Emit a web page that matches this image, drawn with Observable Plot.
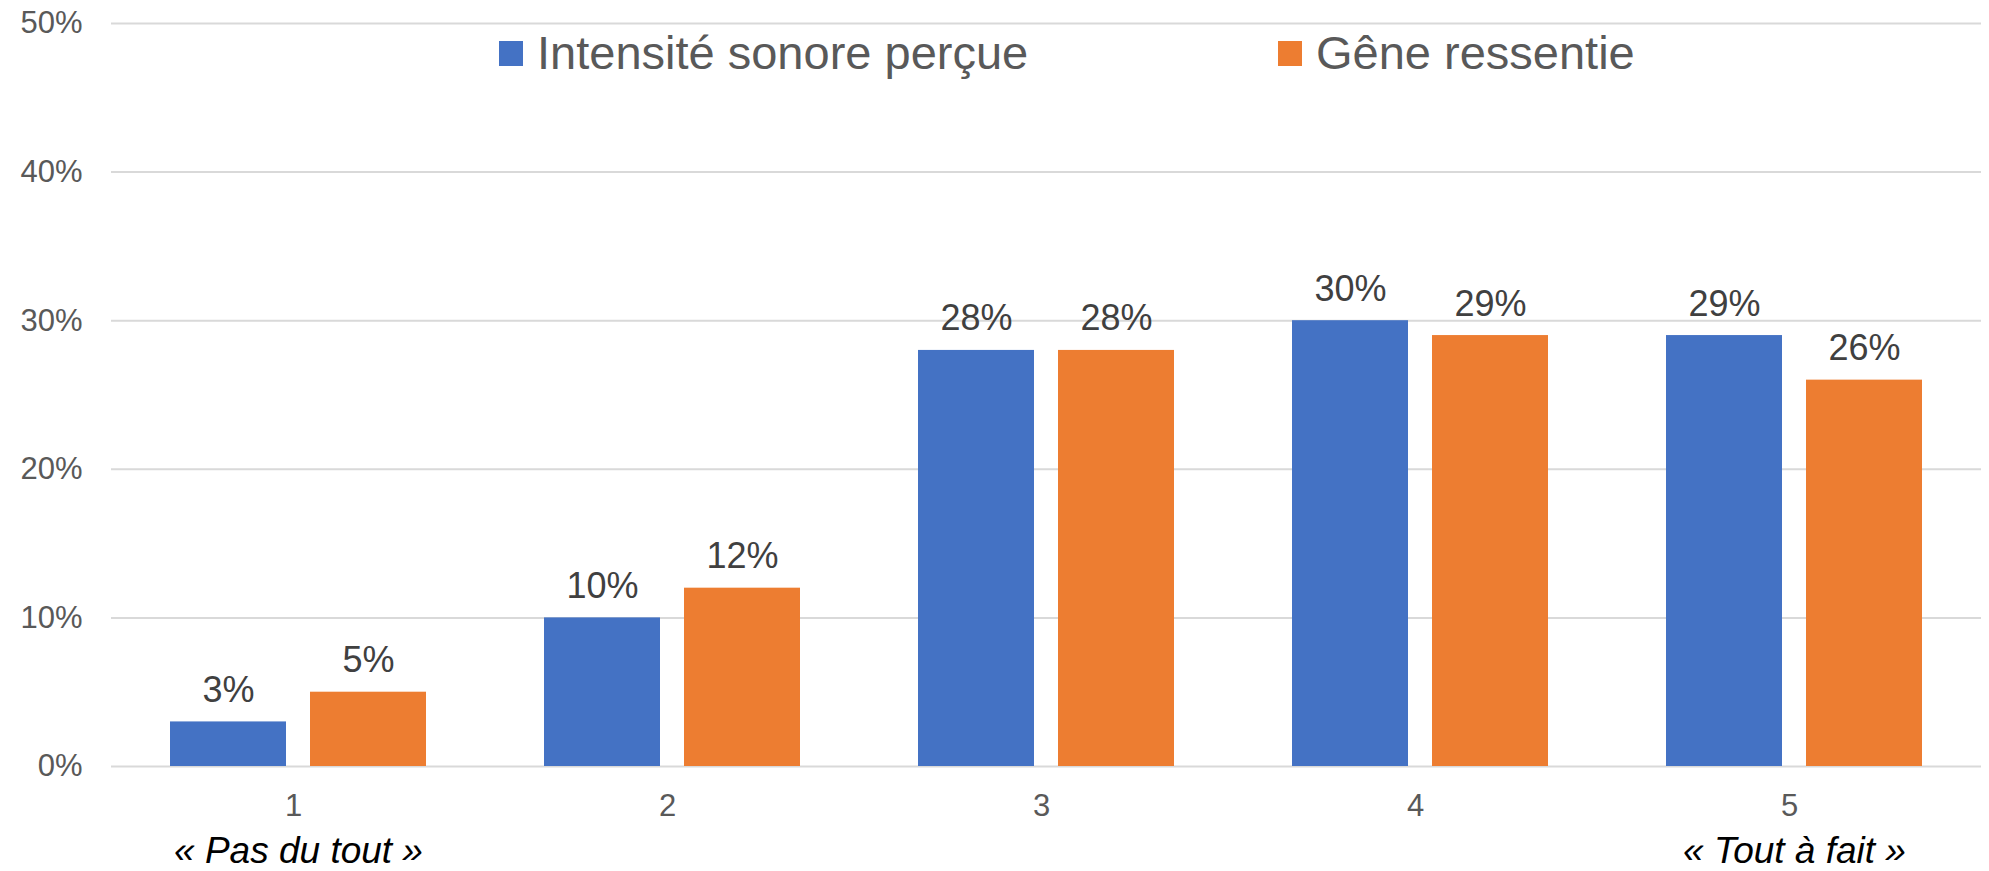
<!DOCTYPE html>
<html>
<head>
<meta charset="utf-8">
<script src="https://cdn.jsdelivr.net/npm/d3@7"></script>
<script src="https://cdn.jsdelivr.net/npm/@observablehq/plot@0.6"></script>
<style>
  html, body { margin: 0; padding: 0; background: #fff; }
  #wrap { position: relative; width: 1989px; height: 871px; font-family: "Liberation Sans", Arial, sans-serif; }
  .leg { position: absolute; top: 29px; display: flex; align-items: center; font-size: 47px; line-height: 47px; color: #595959; white-space: nowrap; }
  .sw { width: 24px; height: 25px; margin-right: 14px; margin-top: 2px; }
</style>
</head>
<body>
<div id="wrap"></div>
<script>
const categories = ["1", "2", "3", "4", "5"];
const seriesNames = ["Intensité sonore perçue", "Gêne ressentie"];
const intensite = [3, 10, 28, 30, 29];
const gene = [5, 12, 28, 29, 26];
const seriesColors = ["#4472C4", "#ED7D31"];
const yTicks = [0, 10, 20, 30, 40, 50];
const extremeCats = ["1", "5"];
const extremeTexts = ["« Pas du tout »", "« Tout à fait »"];

const rows = [];
categories.forEach((c, i) => {
  rows.push({cat: c, series: seriesNames[0], value: intensite[i]});
  rows.push({cat: c, series: seriesNames[1], value: gene[i]});
});
const extremes = extremeCats.map((c, i) => ({cat: c, label: extremeTexts[i]}));

const chart = Plot.plot({
  width: 1989,
  height: 871,
  marginLeft: 109,
  marginRight: 7,
  marginTop: 23,
  marginBottom: 105,
  style: {fontFamily: "'Liberation Sans', Arial, sans-serif", background: "white"},
  fx: {domain: categories, padding: 0},
  x: {domain: seriesNames, paddingInner: 0.17, paddingOuter: 0.42, axis: null},
  y: {domain: [0, 50]},
  color: {domain: seriesNames, range: seriesColors},
  marks: [
    Plot.ruleY(yTicks, {stroke: "#d9d9d9", strokeWidth: 2}),
    Plot.barY(rows, {fx: "cat", x: "series", y: "value", fill: "series"}),
    Plot.text(rows, {fx: "cat", x: "series", y: "value", text: d => d.value + "%", dy: -20, lineAnchor: "bottom", fontSize: 36, fill: "#404040"}),
    Plot.axisY({ticks: yTicks, tickFormat: d => d + "%", tickSize: 0, tickPadding: 29, fontSize: 31, fill: "#595959", label: null}),
    Plot.axisFx({anchor: "bottom", tickSize: 0, tickPadding: 27, dx: -5, fontSize: 31, fill: "#595959", label: null}),
    Plot.text(extremes, {fx: "cat", text: "label", frameAnchor: "bottom", dy: 96, lineAnchor: "bottom", fontSize: 37, fontStyle: "italic", fill: "#000"})
  ]
});

const wrap = document.getElementById("wrap");
wrap.appendChild(chart);

const legendLefts = [499, 1278];
seriesNames.forEach((name, i) => {
  const item = document.createElement("div");
  item.className = "leg";
  item.style.left = legendLefts[i] + "px";
  const sw = document.createElement("div");
  sw.className = "sw";
  sw.style.background = seriesColors[i];
  const tx = document.createElement("span");
  tx.textContent = name;
  item.appendChild(sw);
  item.appendChild(tx);
  wrap.appendChild(item);
});
</script>
</body>
</html>
